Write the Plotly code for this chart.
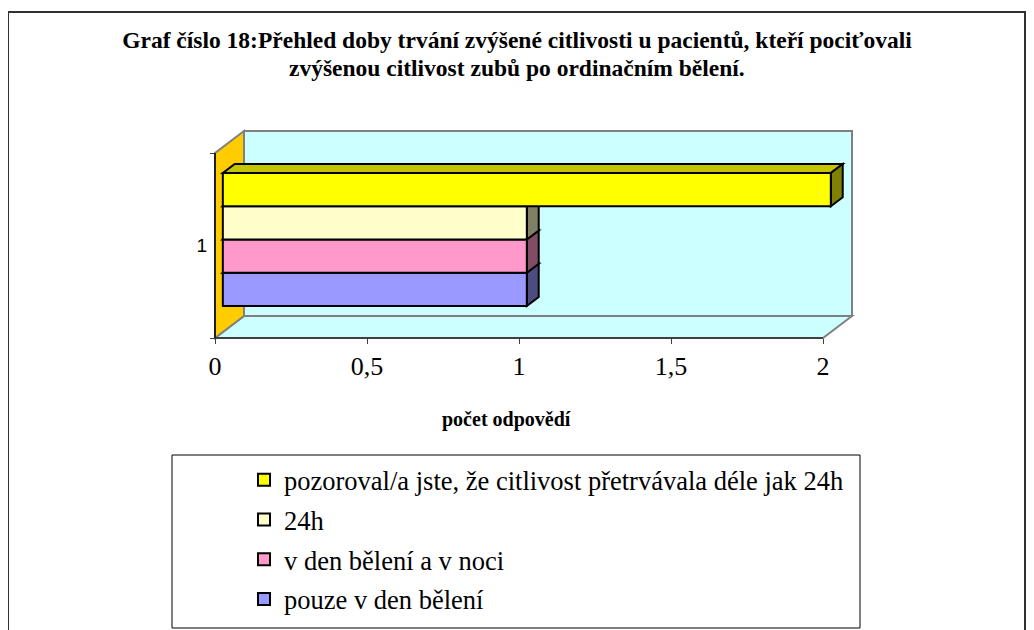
import plotly.graph_objects as go

# ---------------- data ----------------
categories = ["1"]
series_names = [
    "pouze v den bělení",
    "v den bělení a v noci",
    "24h",
    "pozoroval/a jste, že citlivost přetrvávala déle jak 24h",
]
series_values = [1, 1, 1, 2]
x_tick_values = [0, 0.5, 1, 1.5, 2]
x_tick_labels = ["0", "0,5", "1", "1,5", "2"]

title_line1 = "<b>Graf číslo 18:Přehled doby trvání zvýšené citlivosti u pacientů, kteří pociťovali</b>"
title_line2 = "<b>zvýšenou citlivost zubů po ordinačním bělení.</b>"
x_title = "<b>počet odpovědí</b>"

# ---------------- styles ----------------
front_colors = ["#9999FF", "#FF99CC", "#FFFFCC", "#FFFF00"]
side_colors = ["#4C4C80", "#804C66", "#808066", "#808000"]
top_colors = ["#7373BF", "#BF7399", "#BFBF99", "#C4C400"]
WALL = "#CCFFFF"
SIDEWALL = "#FFCC00"
WALL_LINE = "#808080"
SERIF = "Liberation Serif, Times New Roman, serif"
SANS = "Liberation Sans, Arial, sans-serif"

# ---------------- geometry (page pixels; the page body has an 8px margin) ----------------
OFF = 8
W, H = 1034 - OFF, 630 - OFF
PL, PR, PT, PB = 209, 860, 123, 344      # plot area in page pixels
ML, MR, MT, MB = PL - OFF, W - (PR - OFF), PT - OFF, H - (PB - OFF)
X0PX, XS = 215, 304.0   # page pixel of value 0, pixels per unit
Y0PX, YS = 338, 185.0   # page pixel of floor front, pixels per unit (front wall height = 1)
XMIN = (PL - X0PX) / XS
XMAX = (PR - X0PX) / XS
YMIN = (Y0PX - PB) / YS
YMAX = (Y0PX - PT) / YS
XAX = max(x_tick_values)
DX, DY = 29 / XS, 22 / YS          # 3-D depth offset
FRONT_F, DEPTH_F = 0.27, 0.41      # bar front position and bar depth (fraction of depth)
BH = 33.25 / YS                    # bar thickness
n = len(series_values)
center = 0.5 + FRONT_F * DY


def pxp(px):
    return (px - PL) / (PR - PL)


def pyp(py):
    return (PB - py) / (PB - PT)


fig = go.Figure()
shapes = []

# walls
shapes.append(dict(type="path", xref="x", yref="y", layer="below",
                   path=f"M 0,0 L {XAX},0 L {XAX+DX},{DY} L {DX},{DY} Z",
                   fillcolor=WALL, line=dict(color=WALL_LINE, width=2)))
shapes.append(dict(type="rect", xref="x", yref="y", layer="below",
                   x0=DX, y0=DY, x1=XAX + DX, y1=1 + DY,
                   fillcolor=WALL, line=dict(color=WALL_LINE, width=2)))
shapes.append(dict(type="path", xref="x", yref="y", layer="below",
                   path=f"M 0,0 L 0,1 L {DX},{1+DY} L {DX},{DY} Z",
                   fillcolor=SIDEWALL, line=dict(color=WALL_LINE, width=2)))

bdx, bdy = DEPTH_F * DX, DEPTH_F * DY
for k in range(n):
    v = series_values[k]
    y0 = center + (k - n / 2) * BH
    y1 = y0 + BH
    x0 = FRONT_F * DX
    x1 = x0 + v
    # top face
    shapes.append(dict(type="path", xref="x", yref="y", layer="below",
                       path=f"M {x0},{y1} L {x1},{y1} L {x1+bdx},{y1+bdy} L {x0+bdx},{y1+bdy} Z",
                       fillcolor=top_colors[k], line=dict(color="black", width=2)))
    # side face
    shapes.append(dict(type="path", xref="x", yref="y", layer="below",
                       path=f"M {x1},{y0} L {x1+bdx},{y0+bdy} L {x1+bdx},{y1+bdy} L {x1},{y1} Z",
                       fillcolor=side_colors[k], line=dict(color="black", width=2)))
    fig.add_trace(go.Bar(
        y=[(y0 + y1) / 2], x=[v], base=[x0], width=[BH], orientation="h",
        name=series_names[k], legendrank=n - k, legendgroup=f"g{k}",
        marker=dict(color=front_colors[k], line=dict(color="black", width=2)),
    ))

# axis lines
shapes.append(dict(type="line", xref="x", yref="y", x0=0, y0=0, x1=XAX, y1=0,
                   line=dict(color="#404040", width=2)))
shapes.append(dict(type="line", xref="x", yref="y", x0=0, y0=0, x1=0, y1=1,
                   line=dict(color="#202020", width=2)))

# legend box and outer frame
shapes.append(dict(type="rect", xref="paper", yref="paper",
                   x0=pxp(172), x1=pxp(860), y0=pyp(628), y1=pyp(455),
                   line=dict(color="black", width=1)))
shapes.append(dict(type="path", xref="paper", yref="paper",
                   path=f"M {pxp(8)},{pyp(660)} L {pxp(8)},{pyp(12)} L {pxp(1025)},{pyp(12)} L {pxp(1025)},{pyp(660)}",
                   line=dict(color="#303030", width=2)))

fig.update_layout(
    width=W, height=H,
    margin=dict(l=ML, r=MR, t=MT, b=MB, autoexpand=False),
    paper_bgcolor="white", plot_bgcolor="rgba(0,0,0,0)",
    barmode="overlay",
    showlegend=True,
    shapes=shapes,
    title=dict(text=title_line1, x=(517 - OFF) / W, xref="container", xanchor="center",
               y=1 - (40 - OFF) / H, yref="container", yanchor="middle",
               font=dict(family=SERIF, size=23.5, color="black")),
    legend=dict(x=(244 - OFF) / W, y=1 - (456 - OFF) / H, xref="container", yref="container",
                xanchor="left", yanchor="top", bgcolor="rgba(0,0,0,0)",
                borderwidth=0, traceorder="grouped", tracegroupgap=2.3,
                font=dict(family=SERIF, size=26.5, color="black")),
    xaxis=dict(range=[XMIN, XMAX], showgrid=False, zeroline=False, showline=False,
               tickmode="array", tickvals=x_tick_values, ticktext=x_tick_labels,
               ticks="outside", ticklen=5, tickwidth=1, tickcolor="#404040",
               ticklabelstandoff=0,
               tickfont=dict(family=SERIF, size=26, color="black"),
               anchor="free", position=(0 - YMIN) / (YMAX - YMIN)),
    yaxis=dict(range=[YMIN, YMAX], showgrid=False, zeroline=False, showline=False,
               tickmode="array", tickvals=[0.5], ticktext=categories, ticks="",
               ticklabelstandoff=8,
               tickfont=dict(family=SANS, size=19, color="black"),
               minor=dict(tickmode="array", tickvals=[0, 1], ticks="outside",
                          ticklen=5, tickwidth=1, tickcolor="#404040", showgrid=False),
               anchor="free", position=(0 - XMIN) / (XMAX - XMIN)),
    annotations=[
        dict(text=title_line2, x=pxp(517), xref="paper", y=pyp(68), yref="paper",
             xanchor="center", yanchor="middle", showarrow=False,
             font=dict(family=SERIF, size=23.5, color="black")),
        dict(text=x_title, x=pxp(506), xref="paper", y=pyp(419), yref="paper",
             xanchor="center", yanchor="middle", showarrow=False,
             font=dict(family=SERIF, size=20, color="black")),
    ],
)

fig.write_html("out.html")
